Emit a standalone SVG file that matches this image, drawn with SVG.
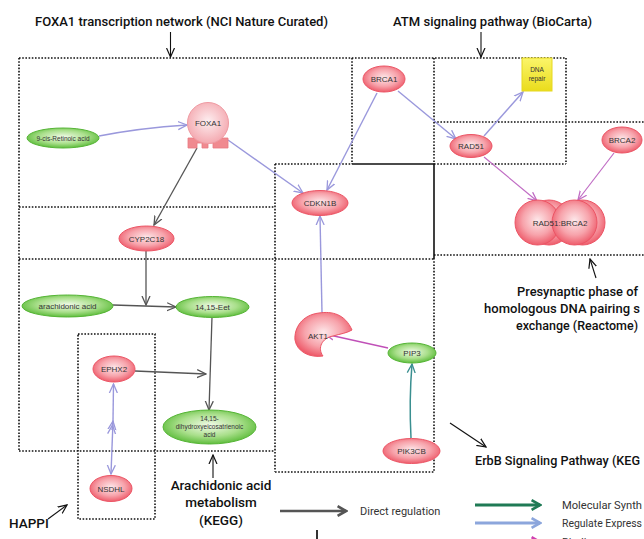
<svg xmlns="http://www.w3.org/2000/svg" width="644" height="539" viewBox="0 0 644 539">
<defs>
<radialGradient id="gRed" cx="50%" cy="45%" r="55%">
<stop offset="0" stop-color="#fde8ea"/><stop offset="0.6" stop-color="#f7a3ab"/><stop offset="1" stop-color="#ee5d6c"/>
</radialGradient>
<radialGradient id="gGreen" cx="50%" cy="45%" r="55%">
<stop offset="0" stop-color="#f2fbe9"/><stop offset="0.6" stop-color="#a9df8b"/><stop offset="1" stop-color="#5fbd3d"/>
</radialGradient>
<radialGradient id="gPink" cx="50%" cy="45%" r="55%">
<stop offset="0" stop-color="#fdeef0"/><stop offset="1" stop-color="#f4a9b0"/>
</radialGradient>
<linearGradient id="gYellow" x1="0" y1="0" x2="0" y2="1">
<stop offset="0" stop-color="#fbf56a"/><stop offset="1" stop-color="#eadc1c"/>
</linearGradient>
<marker id="aBlue" viewBox="0 0 10 10" refX="9" refY="5" markerWidth="10" markerHeight="10" markerUnits="userSpaceOnUse" orient="auto"><path d="M0,1 L9,5 L0,9" fill="none" stroke="#9a98dc" stroke-width="1.3"/></marker>
<marker id="aGray" viewBox="0 0 10 10" refX="9" refY="5" markerWidth="10" markerHeight="10" markerUnits="userSpaceOnUse" orient="auto"><path d="M0,1 L9,5 L0,9" fill="none" stroke="#555" stroke-width="1.3"/></marker>
<marker id="aPurple" viewBox="0 0 10 10" refX="9" refY="5" markerWidth="10" markerHeight="10" markerUnits="userSpaceOnUse" orient="auto"><path d="M0,1 L9,5 L0,9" fill="none" stroke="#c06cc4" stroke-width="1.3"/></marker>
<marker id="aTeal" viewBox="0 0 10 10" refX="9" refY="5" markerWidth="10" markerHeight="10" markerUnits="userSpaceOnUse" orient="auto"><path d="M0,1 L9,5 L0,9" fill="none" stroke="#3a8f90" stroke-width="1.3"/></marker>
<marker id="aBlack" viewBox="0 0 10 10" refX="9" refY="5" markerWidth="10" markerHeight="10" markerUnits="userSpaceOnUse" orient="auto"><path d="M0,1 L9,5 L0,9" fill="none" stroke="#111" stroke-width="1.2"/></marker>
<marker id="lGray" viewBox="0 0 10 10" refX="8" refY="5" markerWidth="12" markerHeight="12" markerUnits="userSpaceOnUse" orient="auto"><path d="M1,1 L8,5 L1,9" fill="none" stroke="#555" stroke-width="2.2"/></marker>
<marker id="lGreen" viewBox="0 0 10 10" refX="8" refY="5" markerWidth="12" markerHeight="12" markerUnits="userSpaceOnUse" orient="auto"><path d="M1,1 L8,5 L1,9" fill="none" stroke="#1f7a55" stroke-width="2.2"/></marker>
<marker id="lBlue" viewBox="0 0 10 10" refX="8" refY="5" markerWidth="12" markerHeight="12" markerUnits="userSpaceOnUse" orient="auto"><path d="M1,1 L8,5 L1,9" fill="none" stroke="#8ca6dc" stroke-width="2.2"/></marker>
<marker id="lPink" viewBox="0 0 10 10" refX="8" refY="5" markerWidth="12" markerHeight="12" markerUnits="userSpaceOnUse" orient="auto"><path d="M1,1 L8,5 L1,9" fill="none" stroke="#d040b0" stroke-width="2.2"/></marker>
</defs>
<style>
.dot{stroke:#111;stroke-width:1.6;stroke-dasharray:1.6 1.6;fill:none}
.solid{stroke:#111;stroke-width:1.6;fill:none}
.red{fill:url(#gRed);stroke:#ec5565;stroke-width:1}
.green{fill:url(#gGreen);stroke:#56b536;stroke-width:1}
.lbl{font-family:"Liberation Sans",Arial,sans-serif;font-size:8px;fill:#333;text-anchor:middle}
.tiny{font-family:"Liberation Sans",Arial,sans-serif;font-size:6.5px;fill:#333;text-anchor:middle}
.title{font-family:Roboto,"Liberation Sans",sans-serif;font-weight:500;font-size:13.5px;fill:#111}
.leg{font-family:Roboto,"Liberation Sans",sans-serif;font-size:11px;fill:#333}
.blue{stroke:#9a98dc;stroke-width:1.4;fill:none;marker-end:url(#aBlue)}
.gray{stroke:#555;stroke-width:1.3;fill:none;marker-end:url(#aGray)}
.purple{stroke:#c06cc4;stroke-width:1.2;fill:none;marker-end:url(#aPurple)}
.ptr{stroke:#111;stroke-width:1.1;fill:none;marker-end:url(#aBlack)}
</style>
<rect width="644" height="539" fill="#fff"/>
<g id="boxes">
<path class="dot" d="M19,58 H566 M19,58 V451 M19,207 H275 M19,259 H434 M19,451 H275 M275,164 V472 M275,472 H434 M275,164 H352 M434,164 H566 M352,58 V164 M566,58 V164 M434,58 V164 M434,258 V472 M434,122 H644 M434,255 H644 M78,334 H155 V519 H78 Z"/>
<path class="solid" d="M352,164 H434 V258"/>
</g>
<g id="connectors">
<path class="blue" d="M99,136 Q140,128 187,125"/>
<path class="blue" d="M228,140 L303,193"/>
<path class="gray" d="M197,148 L154,225"/>
<path class="blue" d="M377,93 L327,190"/>
<path class="blue" d="M398,91 L456,139"/>
<path class="blue" d="M484,136 L523,92"/>
<path class="purple" d="M484,157 L537,201"/>
<path class="purple" d="M614,153 L578,200"/>
<path class="blue" d="M322,313 L320,216"/>
<path stroke="#c050b8" stroke-width="1.3" fill="none" marker-end="url(#aPurple)" d="M388,348 L325,334"/>
<path stroke="#3a8f90" stroke-width="1.5" fill="none" marker-end="url(#aTeal)" d="M411,438 Q409,400 412,364"/>
<path class="gray" d="M146,251 V305"/>
<path class="gray" d="M113,305 L176,307"/>
<path class="gray" d="M212,317 L209,410"/>
<path class="gray" d="M135,371 L206,374"/>
<path class="blue" d="M113,421 L113.5,384"/>
<path class="blue" d="M112.5,425 L113,421"/>
<path class="blue" d="M113,421 L111,474"/>
<path class="blue" d="M112,430 L112.5,425"/>
</g>
<g id="n-retinoic"><ellipse class="green" cx="63" cy="138" rx="36" ry="10"/><text class="tiny" x="63" y="140.5">9-cis-Retinoic acid</text></g>
<g id="n-foxa1">
<path d="M188,138 H228 V148 H213 V143 H208 V148 H202 V143 H197 V148 H188 Z" fill="#f08a90" stroke="#e87a82" stroke-width="0.8"/>
<circle cx="208" cy="123" r="20.5" fill="url(#gPink)" stroke="#ef9aa2" stroke-width="1"/>
<text class="lbl" x="208" y="126">FOXA1</text></g>
<g id="n-cdkn1b"><ellipse class="red" cx="320" cy="203" rx="28" ry="12.5"/><text class="lbl" x="320" y="206">CDKN1B</text></g>
<g id="n-brca1"><ellipse class="red" cx="384" cy="79" rx="21" ry="13"/><text class="lbl" x="384" y="82">BRCA1</text></g>
<g id="n-dnarepair"><rect x="522" y="58" width="30" height="33" fill="url(#gYellow)" stroke="#e6d820" stroke-width="1"/><text class="tiny" x="537" y="72">DNA</text><text class="tiny" x="537" y="81">repair</text></g>
<g id="n-rad51"><ellipse class="red" cx="471" cy="146" rx="21" ry="11.5"/><text class="lbl" x="471" y="149">RAD51</text></g>
<g id="n-brca2"><ellipse class="red" cx="622" cy="140" rx="20" ry="13"/><text class="lbl" x="622" y="143">BRCA2</text></g>
<g id="n-rad51brca2">
<circle class="red" cx="549" cy="222.5" r="22.5"/>
<circle class="red" cx="537.5" cy="222.5" r="22.5"/>
<circle class="red" cx="582.5" cy="222.5" r="22.5"/>
<circle class="red" cx="574.5" cy="222.5" r="22.5"/>
<text class="lbl" x="560" y="226">RAD51:BRCA2</text></g>
<g id="n-cyp2c18"><ellipse class="red" cx="146.5" cy="238.5" rx="27.5" ry="12.5"/><text class="lbl" x="146.5" y="241.5">CYP2C18</text></g>
<g id="n-arachidonic"><ellipse class="green" cx="67.5" cy="306" rx="45.5" ry="11"/><text class="lbl" x="67.5" y="309">arachidonic acid</text></g>
<g id="n-eet"><ellipse class="green" cx="212.5" cy="307" rx="36.5" ry="10.5"/><text class="lbl" x="212.5" y="310">14,15-Eet</text></g>
<g id="n-ephx2"><ellipse class="red" cx="114" cy="369" rx="21" ry="13"/><text class="lbl" x="114" y="372">EPHX2</text></g>
<g id="n-dhet"><ellipse class="green" cx="209.5" cy="427" rx="46.5" ry="17"/><text class="tiny" x="209.5" y="421">14,15-</text><text class="tiny" x="209.5" y="429">dihydroxyeicosatrienoic</text><text class="tiny" x="209.5" y="437">acid</text></g>
<g id="n-nsdhl"><ellipse class="red" cx="111" cy="488.5" rx="21" ry="13"/><text class="lbl" x="111" y="491.5">NSDHL</text></g>
<g id="n-akt1"><path class="red" d="M352,330 C345,314 332,311 319,313 C302,315 294,328 295,340 C297,352 310,358 323,356 C317,348 322,338 333,336 C340,334 347,333 352,330 Z"/><text class="lbl" x="318" y="339">AKT1</text></g>
<g id="n-pip3"><ellipse class="green" cx="412" cy="353" rx="24" ry="10"/><text class="lbl" x="412" y="356">PIP3</text></g>
<g id="n-pik3cb"><ellipse class="red" cx="411.5" cy="451" rx="28.5" ry="12.5"/><text class="lbl" x="411.5" y="454">PIK3CB</text></g>
<g id="labels">
<text class="title" x="35" y="26" textLength="293" lengthAdjust="spacingAndGlyphs">FOXA1 transcription network (NCI Nature Curated)</text>
<path class="ptr" d="M170.5,32 V57"/>
<text class="title" x="393" y="26" textLength="199" lengthAdjust="spacingAndGlyphs">ATM signaling pathway (BioCarta)</text>
<path class="ptr" d="M481,32 V57"/>
<text class="title" x="517" y="296" font-size="12" textLength="121" lengthAdjust="spacingAndGlyphs">Presynaptic phase of</text>
<text class="title" x="484" y="313" font-size="11.5" textLength="156" lengthAdjust="spacingAndGlyphs">homologous DNA pairing s</text>
<text class="title" x="516" y="330" font-size="11.5" textLength="122" lengthAdjust="spacingAndGlyphs">exchange (Reactome)</text>
<path class="ptr" d="M596,278 L590,259"/>
<text class="title" x="475" y="465" font-size="11.5" textLength="165" lengthAdjust="spacingAndGlyphs">ErbB Signaling Pathway (KEG</text>
<path class="ptr" d="M450,423 L486,447"/>
<text class="title" x="221" y="490" text-anchor="middle">Arachidonic acid</text>
<text class="title" x="221" y="507" text-anchor="middle">metabolism</text>
<text class="title" x="221" y="525" text-anchor="middle">(KEGG)</text>
<path class="ptr" d="M213,478 V455"/>
<text class="title" x="9" y="528">HAPPI</text>
<path class="ptr" d="M48,519 L67,505"/>
</g>
<g id="legend">
<path d="M280,511 H346" stroke="#555" stroke-width="2.5" fill="none" marker-end="url(#lGray)"/>
<text class="leg" x="360" y="515">Direct regulation</text>
<path d="M317,530 V545" stroke="#333" stroke-width="2"/>
<path d="M475,505 H540" stroke="#1f7a55" stroke-width="2.8" fill="none" marker-end="url(#lGreen)"/>
<text class="leg" x="562" y="509" font-size="10" textLength="80" lengthAdjust="spacingAndGlyphs">Molecular Synth</text>
<path d="M475,523 H540" stroke="#8ca6dc" stroke-width="2.8" fill="none" marker-end="url(#lBlue)"/>
<text class="leg" x="562" y="527" font-size="10" textLength="80" lengthAdjust="spacingAndGlyphs">Regulate Express</text>
<path d="M475,542 H540" stroke="#d040b0" stroke-width="2.8" fill="none" marker-end="url(#lPink)"/>
<text class="leg" x="562" y="545.5">Binding</text>
</g>
</svg>
